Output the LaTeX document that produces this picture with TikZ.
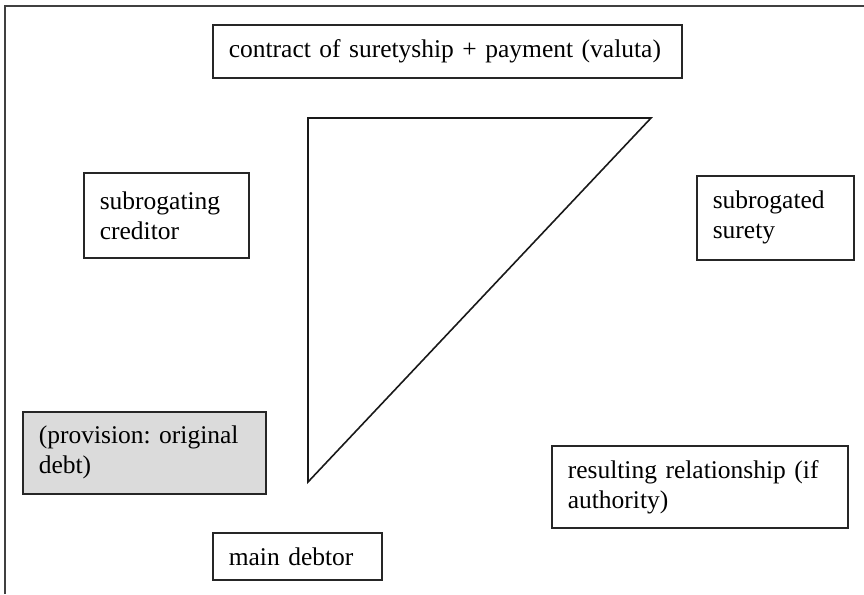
\documentclass[tikz,border=0pt]{standalone}
\usepackage{fontspec}
\setmainfont{Liberation Serif}
\frenchspacing
\begin{document}
\begin{tikzpicture}[x=1pt,y=-1pt,
  box/.style={draw=black!85, line width=1.6pt, anchor=north west, inner xsep=16pt, inner ysep=0pt,
    align=left, font=\fontsize{25.5}{30}\selectfont},
  shaded/.style={box, fill=gray!28}]
  \useasboundingbox (0,0) rectangle (864,594);
  % page frame (top and left edges)
  \draw[line width=1.1pt, black!75] (5,594) -- (5,6) -- (864,6);

  % transaction boxes, sized explicitly: (x, y) top-left, width, height
  \node[box, minimum width=469pt, minimum height=53pt, text width=437pt] (contract) at (212,24)
    {contract of suretyship + payment (valuta)};
  \node[box, minimum width=165pt, minimum height=85pt, text width=133pt] (creditor) at (83,172)
    {subrogating\\creditor};
  \node[box, minimum width=157pt, minimum height=84pt, text width=125pt] (surety) at (696,175)
    {subrogated\\surety};
  \node[shaded, minimum width=243pt, minimum height=82pt, text width=211pt] (provision) at (22,411)
    {(provision: original\\debt)};
  \node[box, minimum width=296pt, minimum height=82pt, text width=264pt] (result) at (551,445)
    {resulting relationship (if\\authority)};
  \node[box, minimum width=169pt, minimum height=47pt, text width=137pt] (debtor) at (212,532)
    {main debtor};

  % the three-party triangle
  \draw[line width=1.6pt, black!90, line join=miter] (308,118) -- (651,118) -- (308,482) -- cycle;
\end{tikzpicture}
\end{document}
